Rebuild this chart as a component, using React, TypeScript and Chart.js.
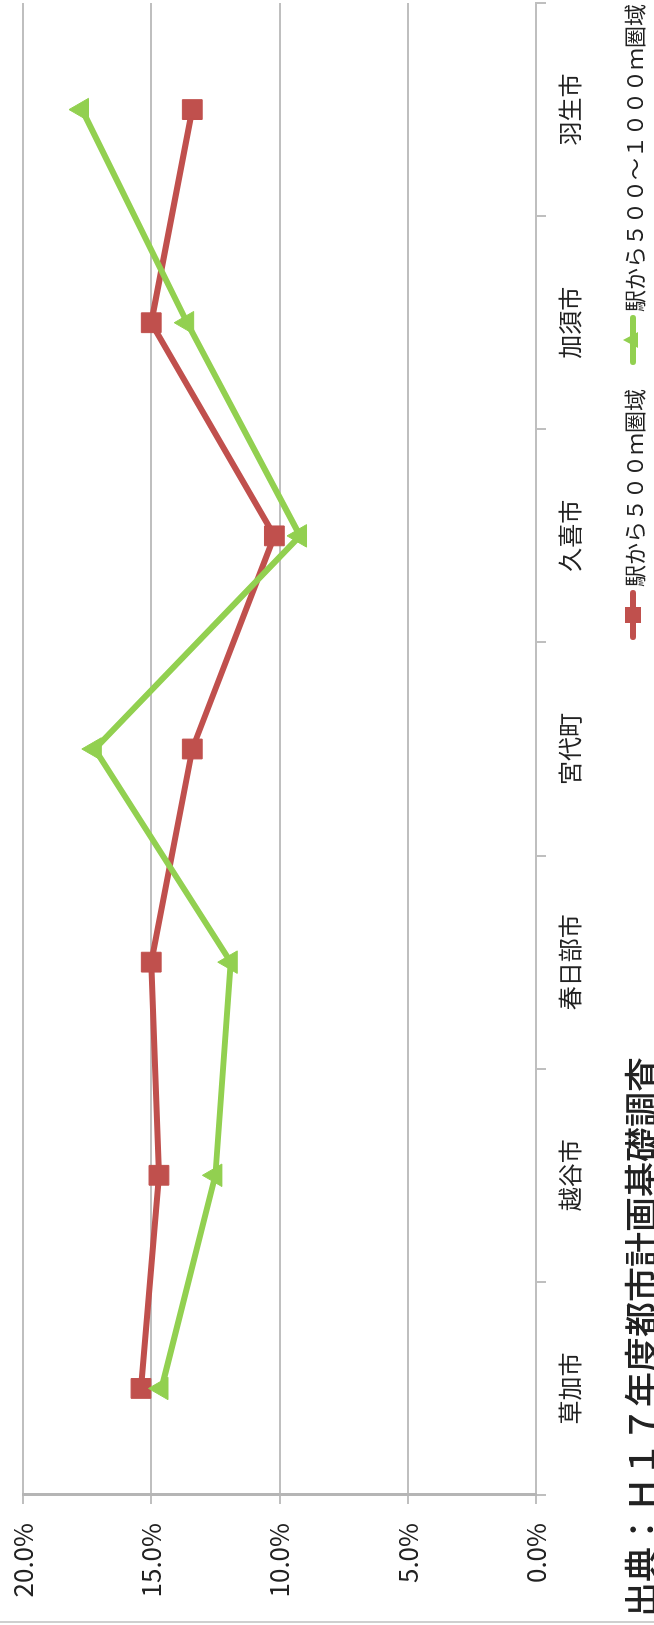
import React, { useEffect, useRef } from 'react';
import { Chart, registerables } from 'chart.js';

Chart.register(...registerables);

// ---- data ----
const categories = ['草加市', '越谷市', '春日部市', '宮代町', '久喜市', '加須市', '羽生市'];
const within500 = [15.4, 14.7, 15.0, 13.4, 10.2, 15.0, 13.4];
const within500to1000 = [14.6, 12.5, 11.9, 17.2, 9.2, 13.6, 17.7];
const valueTicks = [0, 5, 10, 15, 20];
const seriesNames = ['駅から５００ｍ圏域', '駅から５００～１０００ｍ圏域'];
const sourceNote = '出典：Ｈ１７年度都市計画基礎調査';

const RED = '#C0504D';
const GREEN = '#92D050';
const GRID = '#BFBFBF';
const TEXT = '#222222';
const FONT = '"Noto Sans CJK JP", "Noto Sans", sans-serif';

const W = 1625;
const H = 654;

export default function App() {
  const ref = useRef<HTMLCanvasElement | null>(null);

  useEffect(() => {
    document.body.style.margin = '0';
    document.body.style.overflow = 'hidden';
    const canvas = ref.current;
    if (!canvas) return;
    const chart = new Chart(canvas, {
      type: 'line',
      data: {
        labels: categories,
        datasets: [
          {
            label: seriesNames[0],
            data: within500,
            borderColor: RED,
            backgroundColor: RED,
            borderWidth: 6,
            pointStyle: 'rect',
            pointRadius: 14,
            pointBorderWidth: 1,
            pointBorderColor: RED,
            pointBackgroundColor: RED,
            tension: 0,
            order: 1,
          },
          {
            label: seriesNames[1],
            data: within500to1000,
            borderColor: GREEN,
            backgroundColor: GREEN,
            borderWidth: 6,
            pointStyle: 'triangle',
            pointRadius: 13,
            pointBorderWidth: 1,
            pointBorderColor: GREEN,
            pointBackgroundColor: GREEN,
            tension: 0,
            order: 0,
          },
        ],
      },
      options: {
        responsive: false,
        animation: false,
        devicePixelRatio: 1,
        layout: { autoPadding: false, padding: { left: 0, right: 3, top: 23, bottom: 0 } },
        plugins: {
          legend: { display: false },
          title: { display: false },
          tooltip: { enabled: false },
        },
        scales: {
          x: {
            type: 'category',
            offset: true,
            grid: {
              offset: true,
              drawOnChartArea: false,
              drawTicks: true,
              tickLength: 10,
              color: GRID,
              lineWidth: 2,
            },
            border: { display: true, color: GRID, width: 2 },
            ticks: {
              autoSkip: false,
              maxRotation: 0,
              minRotation: 0,
              padding: 9,
              color: TEXT,
              font: { family: FONT, size: 24 },
            },
            afterFit: (s: any) => {
              s.height = 118;
              s.paddingLeft = 0;
              s.paddingRight = 0;
            },
          },
          y: {
            type: 'linear',
            min: 0,
            max: 20,
            afterBuildTicks: (s: any) => {
              s.ticks = valueTicks.map((v) => ({ value: v }));
            },
            grid: {
              color: GRID,
              lineWidth: 2,
              drawTicks: true,
              tickLength: 9,
            },
            border: { display: true, color: '#B5B5B5', width: 3 },
            ticks: {
              padding: 19,
              color: TEXT,
              font: { family: FONT, size: 26 },
              callback: (v: any) => Number(v).toFixed(1) + '%',
            },
            afterFit: (s: any) => {
              s.width = 130;
              s.paddingTop = 0;
              s.paddingBottom = 0;
            },
          },
        },
      },
    });
    return () => chart.destroy();
  }, []);

  const legendText: React.CSSProperties = {
    fontFamily: FONT,
    fontSize: 22,
    color: TEXT,
    whiteSpace: 'nowrap',
    lineHeight: '30px',
  };

  return (
    <div
      style={{
        position: 'fixed',
        left: 0,
        top: 0,
        width: W,
        height: H,
        transformOrigin: '0 0',
        transform: `translate(0px, ${W}px) rotate(-90deg)`,
        overflow: 'hidden',
        background: '#ffffff',
      }}
    >
      <canvas ref={ref} width={W} height={H} style={{ position: 'absolute', left: 0, top: 0, width: W, height: H }} />
      {/* chart border (left edge) */}
      <div style={{ position: 'absolute', left: 2, top: 0, width: 2, height: H, background: '#CFCFCF' }} />
      {/* source note */}
      <div
        style={{
          position: 'absolute',
          left: 8,
          top: 621,
          fontFamily: FONT,
          fontWeight: 500,
          fontSize: 35,
          lineHeight: '38px',
          color: TEXT,
          whiteSpace: 'nowrap',
        }}
      >
        {sourceNote}
      </div>
      {/* legend item 1 */}
      <div style={{ position: 'absolute', left: 985, top: 618, height: 30, display: 'flex', alignItems: 'center' }}>
        <div style={{ position: 'relative', width: 50, height: 30 }}>
          <div style={{ position: 'absolute', left: 0, right: 0, top: 12, height: 6, background: RED, borderRadius: 3 }} />
          <div style={{ position: 'absolute', left: 17, top: 7, width: 16, height: 16, background: RED }} />
        </div>
        <span style={{ ...legendText, marginLeft: 3 }}>{seriesNames[0]}</span>
      </div>
      {/* legend item 2 */}
      <div style={{ position: 'absolute', left: 1260, top: 618, height: 30, display: 'flex', alignItems: 'center' }}>
        <div style={{ position: 'relative', width: 50, height: 30 }}>
          <div style={{ position: 'absolute', left: 0, right: 0, top: 12, height: 6, background: GREEN, borderRadius: 3 }} />
          <div
            style={{
              position: 'absolute',
              left: 17,
              top: 5,
              width: 0,
              height: 0,
              borderLeft: '8px solid transparent',
              borderRight: '8px solid transparent',
              borderBottom: '15px solid ' + GREEN,
            }}
          />
        </div>
        <span style={{ ...legendText, marginLeft: 3 }}>{seriesNames[1]}</span>
      </div>
    </div>
  );
}
